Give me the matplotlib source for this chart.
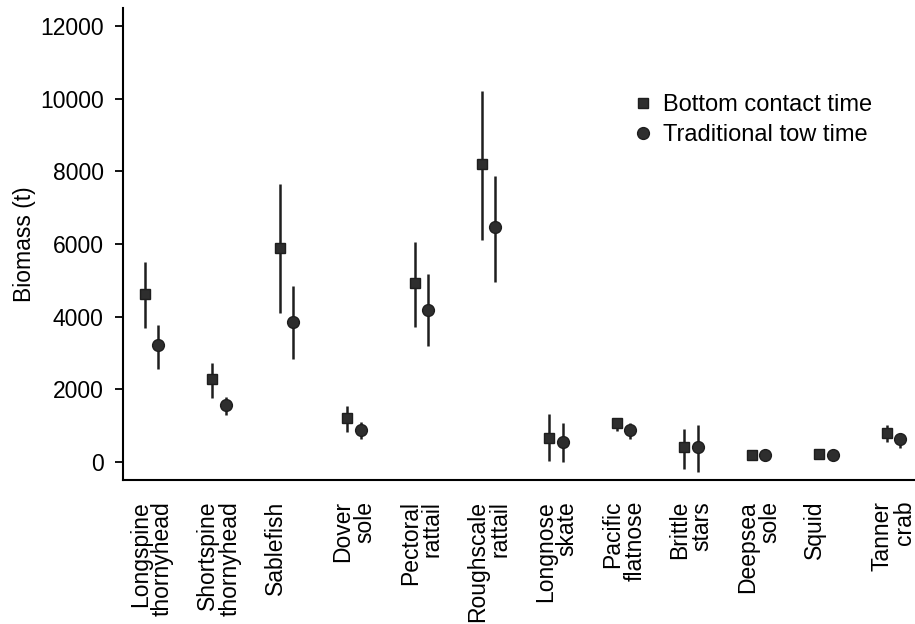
import numpy as np
import matplotlib.pyplot as plt
from matplotlib.lines import Line2D

plt.rcParams['font.family'] = ['Liberation Sans', 'DejaVu Sans']

species = ["Longspine\nthornyhead", "Shortspine\nthornyhead", "Sablefish\n ",
           "Dover\nsole", "Pectoral\nrattail", "Roughscale\nrattail",
           "Longnose\nskate", "Pacific\nflatnose", "Brittle\nstars",
           "Deepsea\nsole", "Squid\n ", "Tanner\ncrab"]

# bottom contact time
bct = [4620, 2270, 5890, 1220, 4930, 8190, 650, 1080, 400, 195, 220, 790]
bct_lo = [3700, 1770, 4090, 820, 3720, 6100, 10, 840, -200, 170, 200, 560]
bct_hi = [5500, 2730, 7640, 1540, 6050, 10220, 1320, 1160, 900, 220, 240, 1020]

# traditional tow time
ttt = [3210, 1570, 3860, 880, 4180, 6460, 560, 880, 400, 185, 195, 620]
ttt_lo = [2550, 1290, 2820, 620, 3190, 4950, 0, 620, -270, 165, 180, 380]
ttt_hi = [3780, 1780, 4830, 1110, 5160, 7880, 1060, 1060, 1020, 205, 210, 740]

x = np.arange(len(species))
off = 0.1
col = '#1e1e1e'

fig = plt.figure(figsize=(9.15, 6.24), dpi=100)
ax = fig.add_axes([123/915, 1-480/624, 1-123/915, (480-8)/624])

ax.errorbar(x - off, bct, yerr=[np.subtract(bct, bct_lo), np.subtract(bct_hi, bct)],
            fmt='s', ms=7.5, color=col, mfc='#2e2e2e', mec=col, elinewidth=1.8, capsize=0)
ax.errorbar(x + off, ttt, yerr=[np.subtract(ttt, ttt_lo), np.subtract(ttt_hi, ttt)],
            fmt='o', ms=8.5, color=col, mfc='#2e2e2e', mec=col, elinewidth=1.8, capsize=0)

ax.set_xlim(-0.4225, 11.32)
ax.set_ylim(-500, 12500)
ax.set_yticks(range(0, 12001, 2000))
ax.tick_params(axis='y', labelsize=16.5, length=6, width=1.3, pad=8)
ax.set_xticks(x)
ax.set_xticklabels(species, rotation=90, fontsize=16.5, multialignment='right',
                   linespacing=0.95)
ax.tick_params(axis='x', length=0, pad=15)
ax.set_ylabel('Biomass (t)', fontsize=16.5, labelpad=3)

for s in ['top', 'right']:
    ax.spines[s].set_visible(False)
ax.spines['left'].set_linewidth(1.5)
ax.spines['bottom'].set_linewidth(1.5)

handles = [Line2D([], [], marker='s', ls='none', ms=7.5, color=col, mfc='#2e2e2e'),
           Line2D([], [], marker='o', ls='none', ms=8.5, color=col, mfc='#2e2e2e')]
fig.legend(handles, ['Bottom contact time', 'Traditional tow time'],
           loc='upper left', bbox_to_anchor=(622/915, 1-82/624), frameon=False,
           fontsize=17, handlelength=0.8, handletextpad=0.45, borderpad=0,
           labelspacing=0.35)

fig.savefig('out.png', dpi=100)
